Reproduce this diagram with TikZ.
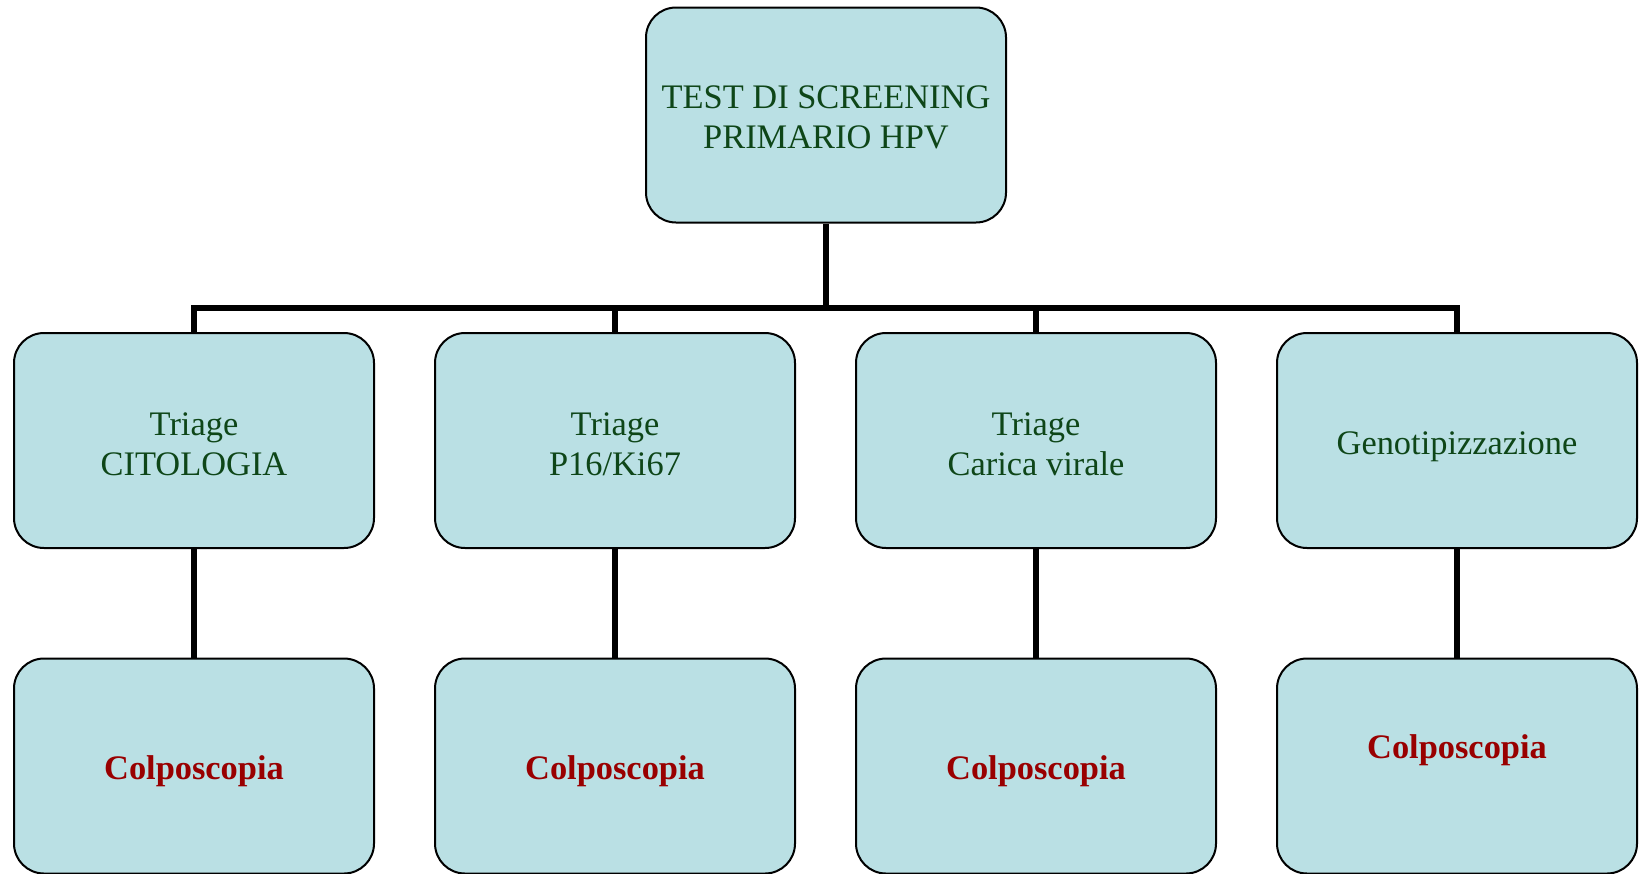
\documentclass[tikz,border=0pt]{standalone}
\usepackage{fontspec}
\setmainfont{Liberation Serif}
\definecolor{boxfill}{RGB}{186,224,228}
\definecolor{txtgreen}{RGB}{14,70,24}
\definecolor{txtred}{RGB}{153,0,0}
\newcommand{\topstrut}[1]{\rule{0pt}{#1}}
\begin{document}
\begin{tikzpicture}[x=1pt,y=-1pt,
  box/.style={draw=black, line width=2pt, fill=boxfill, rounded corners=30pt,
    minimum width=360pt, minimum height=215pt, inner sep=0pt, align=center,
    text=txtgreen, font=\fontsize{34.4}{40}\selectfont},
  colpo/.style={box, text=txtred, font=\fontsize{34.4}{40}\selectfont\bfseries},
  conn/.style={line width=5.5pt, line join=miter, line cap=butt}]
\useasboundingbox (0,0) rectangle (1640,873);
\node[box] (top) at (826,115) {\topstrut{27pt}TEST DI SCREENING\\PRIMARIO HPV};
\node[box] (b1) at (194,440.5) {\topstrut{30pt}Triage\\CITOLOGIA};
\node[box] (b2) at (615,440.5) {\topstrut{30pt}Triage\\P16/Ki67};
\node[box] (b3) at (1036,440.5) {\topstrut{30pt}Triage\\Carica virale};
\node[box, text height=35pt, text depth=7.5pt] (b4) at (1457,440.5) {Genotipizzazione};
\node[colpo, text height=33pt, text depth=7pt] (c1) at (194,766) {Colposcopia};
\node[colpo, text height=33pt, text depth=7pt] (c2) at (615,766) {Colposcopia};
\node[colpo, text height=33pt, text depth=7pt] (c3) at (1036,766) {Colposcopia};
\node[colpo, text height=23pt, text depth=39pt] (c4) at (1457,766) {Colposcopia};
\coordinate (bus) at (826,308);
\draw[conn] (top.south) -- (bus);
\draw[conn] (b1.north) |- (bus) -| (b4.north);
\draw[conn] (b2.north) -- (b2.north |- bus);
\draw[conn] (b3.north) -- (b3.north |- bus);
\draw[conn] (b1.south) -- (c1.north);
\draw[conn] (b2.south) -- (c2.north);
\draw[conn] (b3.south) -- (c3.north);
\draw[conn] (b4.south) -- (c4.north);
\end{tikzpicture}
\end{document}
